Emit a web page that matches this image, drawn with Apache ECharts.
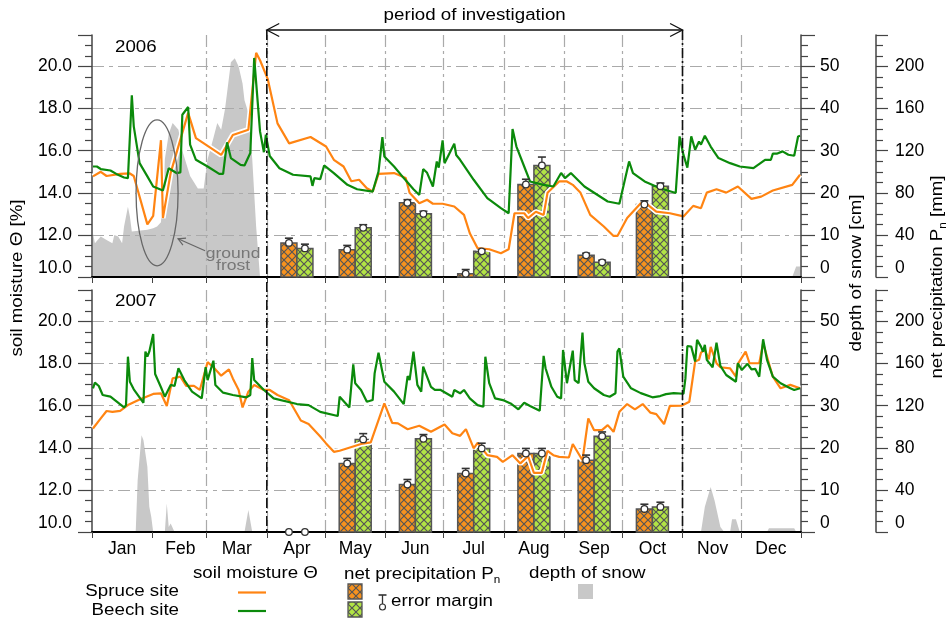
<!DOCTYPE html>
<html>
<head>
<meta charset="utf-8">
<script src="https://cdn.jsdelivr.net/npm/echarts@6/dist/echarts.min.js"></script>
<style>
  html, body { margin: 0; padding: 0; background: #fff; }
  #chart { width: 950px; height: 623px; }
</style>
</head>
<body>
<div id="chart"></div>
<script>
// ---- calendar ----
const months = ['Jan','Feb','Mar','Apr','May','Jun','Jul','Aug','Sep','Oct','Nov','Dec'];
const monthDays = [31,28,31,30,31,30,31,31,30,31,30,31];

// ---- soil moisture Θ [%], [day of year index, value] ----
const spruce2006 = [[0,14.78],[4,15.0],[7,14.8],[14,14.9],[19,14.92],[21,14.8],[28,12.5],[31,12.9],[35,16.5],[36,12.8],[40,14.95],[49,17.8],[53,16.6],[66,15.8],[72,16.75],[80,17.0],[84,20.65],[86,20.3],[90,19.4],[95,17.3],[101,16.35],[112,16.65],[120,16.2],[124,15.57],[129,15.25],[133,14.55],[137,14.62],[141,14.22],[144,14.06],[147,14.9],[155,14.94],[161,14.7],[163,14.0],[168,13.5],[172,13.67],[175,13.48],[180,13.48],[186,13.35],[191,12.95],[194,12.08],[198,11.37],[204,11.32],[210,11.13],[214,11.32],[217,13.03],[222,13.03],[224,12.8],[228,13.1],[232,12.95],[234,14.0],[240,14.54],[244,14.54],[247,14.38],[251,14.0],[256,12.95],[263,12.4],[268,11.95],[270,11.95],[275,12.8],[282,13.5],[285,13.48],[290,13.11],[297,13.03],[304,12.88],[309,13.38],[313,13.27],[316,14.01],[321,14.17],[326,14.01],[332,14.3],[339,13.71],[344,13.82],[350,14.11],[360,14.38],[364,14.86]];
const beech2006 = [[0,15.25],[2,15.25],[4,15.13],[9,15.06],[12,14.9],[16,14.73],[18,14.7],[20,18.63],[21,17.16],[24,15.41],[28,14.78],[31,14.3],[36,14.11],[39,15.17],[43,14.94],[45,14.97],[46,17.71],[47,17.75],[49,18.08],[50,16.29],[53,15.57],[59,15.25],[65,14.9],[67,14.9],[69,16.4],[71,15.65],[76,15.33],[78,15.3],[81,15.89],[82,15.97],[83,20.41],[86,16.92],[88,15.93],[89,16.76],[91,15.75],[96,15.17],[103,14.86],[112,14.78],[113,14.33],[114,14.7],[117,14.65],[119,15.3],[124,14.94],[131,14.38],[136,14.17],[144,14.06],[147,15.01],[149,16.65],[150,15.73],[155,15.25],[160,14.7],[165,14.17],[168,13.9],[170,15.13],[172,14.95],[175,14.3],[177,15.49],[178,15.2],[180,16.49],[181,15.41],[186,16.33],[187,15.8],[189,15.57],[196,14.62],[203,13.75],[210,13.27],[214,13.03],[216,17.03],[218,16.2],[222,15.25],[225,14.54],[232,14.38],[237,14.3],[241,14.94],[243,14.7],[246,14.94],[253,14.3],[265,13.59],[271,13.48],[276,15.49],[278,14.94],[284,14.54],[292,14.22],[300,13.99],[302,16.68],[304,15.8],[306,15.2],[308,16.68],[310,16.05],[312,16.44],[313,16.29],[315,16.71],[318,16.2],[322,15.65],[328,15.41],[333,15.25],[340,15.17],[346,15.57],[349,15.57],[350,15.86],[352,15.86],[355,15.97],[358,15.81],[361,15.76],[363,16.68],[364,16.71]];
const spruce2007 = [[0,14.92],[4,15.4],[7,15.75],[10,15.71],[14,15.76],[18,16.03],[24,16.3],[31,16.56],[35,16.59],[38,15.99],[41,17.3],[45,17.38],[48,16.94],[52,16.94],[55,16.75],[59,18.07],[62,17.83],[66,17.43],[70,17.73],[72,17.3],[75,16.75],[77,15.92],[80,16.67],[83,16.99],[88,16.75],[91,16.75],[95,16.51],[101,16.26],[107,15.3],[111,15.13],[117,14.54],[120,14.21],[124,13.81],[127,13.86],[138,14.18],[143,14.26],[150,16.11],[154,15.19],[157,15.16],[162,14.88],[168,15.05],[174,14.76],[181,15.11],[185,14.69],[189,14.57],[192,14.89],[196,13.97],[198,14.24],[203,13.65],[208,13.57],[211,13.33],[216,13.65],[220,13.26],[224,13.6],[227,12.81],[231,12.81],[234,13.86],[237,13.65],[240,13.57],[245,13.54],[247,14.18],[252,13.41],[255,15.4],[258,14.84],[262,14.84],[265,15.08],[268,14.76],[271,15.71],[275,16.08],[279,15.83],[283,16.08],[287,15.67],[290,15.6],[294,15.13],[297,15.99],[303,16.0],[307,16.19],[310,18.1],[312,18.18],[313,18.52],[315,18.65],[317,18.2],[318,18.8],[321,18.02],[323,17.83],[328,17.78],[331,17.38],[332,17.99],[336,18.57],[338,18.02],[343,18.02],[345,18.97],[350,17.38],[354,16.83],[359,16.99],[364,16.83]];
const beech2007 = [[0,16.83],[1,17.1],[3,16.94],[5,16.51],[9,16.43],[16,15.92],[17,16.03],[18,18.33],[19,17.14],[21,16.78],[26,16.14],[27,18.57],[28,18.33],[29,18.57],[31,19.41],[32,17.51],[35,16.88],[37,16.43],[40,16.99],[42,16.94],[44,17.78],[47,17.22],[51,16.67],[56,16.35],[58,17.83],[59,17.22],[62,18.14],[63,16.99],[67,16.62],[72,16.51],[79,16.4],[81,16.51],[82,18.26],[83,17.22],[88,16.75],[93,16.35],[105,16.08],[111,16.03],[117,15.71],[126,15.51],[127,16.43],[132,15.92],[134,17.97],[135,17.07],[138,16.75],[141,16.19],[144,16.27],[145,17.54],[147,18.52],[150,17.14],[155,16.67],[160,16.08],[162,17.41],[163,17.22],[165,18.57],[167,16.99],[169,16.67],[170,17.86],[174,16.9],[176,16.75],[179,16.75],[185,16.43],[186,16.75],[189,16.59],[191,16.75],[194,16.35],[198,16.03],[201,15.95],[202,18.33],[204,17.07],[207,16.35],[211,16.27],[215,16.11],[219,15.83],[222,16.14],[225,15.99],[230,15.76],[232,18.37],[233,17.78],[236,16.9],[239,16.43],[241,16.35],[242,18.65],[244,17.07],[247,18.62],[248,17.22],[250,17.07],[252,19.48],[253,18.02],[255,17.14],[258,16.83],[263,16.51],[266,16.43],[269,16.59],[270,18.57],[271,18.73],[273,17.38],[277,16.83],[282,16.6],[288,16.4],[292,16.46],[295,16.55],[299,16.6],[304,16.57],[305,17.3],[306,18.84],[308,18.81],[310,18.1],[311,19.13],[313,18.81],[314,18.57],[315,18.89],[316,18.18],[319,17.83],[321,19.0],[323,17.89],[326,17.46],[331,17.14],[332,18.02],[334,17.7],[337,17.99],[339,17.73],[341,17.75],[343,17.38],[345,19.16],[347,18.18],[350,17.38],[354,17.07],[359,16.83],[361,16.75],[364,16.83]];

// ---- depth of snow [cm], [day of year index, value] ----
const snow2006 = [[0,10.4],[1,8],[4,9.6],[7,8.8],[10,8],[11,10],[13,9.6],[15,8],[16,12],[18,16.7],[19,14.4],[20,10.8],[28,11.2],[31,11.6],[33,12],[35,13],[37,28],[39,34],[41,36.6],[44,35],[46,30],[50,24],[54,21],[57,21],[59,28],[62,33],[64,36.6],[66,35],[68,40],[71,51],[73,52],[75,50],[77,46],[78,42],[80,39],[82,28],[84,12],[86,0],[360,0],[362,2.5],[364,2.5]];
const snow2007 = [[0,0],[22,0],[23,12.3],[25,23],[26,21.8],[28,15.5],[29,6],[30,3.6],[31,0],[37,0],[38,6.8],[39,1.2],[40,2],[42,0],[78,0],[80,5.2],[81,5.2],[82,0],[313,0],[315,6],[318,10.7],[320,7.5],[323,1.2],[325,0],[328,0],[329,3],[331,3],[333,0],[347,0],[348,0.9],[361,0.9],[362,0]];

// ---- net precipitation Pn [mm] per month with error margin ----
const barMonths = ['Apr','May','Jun','Jul','Aug','Sep','Oct'];
const precipSpruce2006 = [32.4, 26, 70.5, 3.1, 87.9, 20.6, 68.9];
const precipBeech2006  = [27.2, 46.7, 60, 24.4, 106, 13.9, 86.3];
const errSpruce2006    = [4.5, 4, 3, 4, 5, 2, 3.5];
const errBeech2006     = [4, 3, 2.5, 1.5, 8, 2, 3];
const precipSpruce2007 = [0, 65.1, 45.1, 55.6, 74.6, 68.3, 21.9];
const precipBeech2007  = [0, 88, 88.6, 79.4, 74.6, 91.1, 23.8];
const errSpruce2007    = [0, 4.8, 4.8, 4.8, 4.8, 4.8, 4.5];
const errBeech2007     = [0, 5.5, 4, 5, 4.8, 4, 4.5];

// ---- styling ----
const FONT = "'Liberation Sans', Arial, Helvetica, sans-serif";
const AXIS_FS = 17.5;      // axis tick labels
const TXT_FS = 16;         // free text
const TXT_SX = 1.17;       // horizontal stretch of free text
const C_SPRUCE = '#ff8412';
const C_BEECH = '#0b8a0b';
const C_SPRUCE_BAR = '#f7921e';
const C_BEECH_BAR = '#b2e445';
const C_SNOW = '#c8c8c8';
const C_AXIS = '#444';

// day categories and month helpers
const dayCats = [], monthStart = [], monthMid = [];
let acc = 0;
months.forEach((m, k) => {
  monthStart.push(acc);
  monthMid.push(acc + Math.floor(monthDays[k] / 2));
  for (let d = 1; d <= monthDays[k]; d++) dayCats.push(m + ' ' + d);
  acc += monthDays[k];
});
const startSet = new Set(monthStart);
const midSet = new Set(monthMid);
const midOf = m => monthMid[months.indexOf(m)];

function hatch(fill) {
  const c = document.createElement('canvas');
  c.width = 8; c.height = 8;
  const g = c.getContext('2d');
  g.fillStyle = fill; g.fillRect(0, 0, 8, 8);
  g.strokeStyle = '#555'; g.lineWidth = 1.2;
  g.beginPath();
  g.moveTo(-1, -1); g.lineTo(9, 9);
  g.moveTo(9, -1); g.lineTo(-1, 9);
  g.stroke();
  return { type: 'pattern', image: c, repeat: 'repeat' };
}
const patSpruce = hatch(C_SPRUCE_BAR);
const patBeech = hatch(C_BEECH_BAR);

function makeX(gridIndex, showLabels) {
  return {
    type: 'category', gridIndex, data: dayCats, boundaryGap: true,
    axisLine: { show: true, onZero: false, lineStyle: { color: '#000', width: 2 } },
    axisTick: { show: true, interval: i => startSet.has(i), length: 6, lineStyle: { color: C_AXIS, width: 1 } },
    axisLabel: { show: showLabels, interval: i => midSet.has(i), formatter: v => v.split(' ')[0],
                 color: '#000', fontSize: AXIS_FS, fontFamily: FONT, margin: 8 },
    splitLine: { show: true, interval: i => startSet.has(i) && i > 0, showMinLine: false, showMaxLine: false,
                 lineStyle: { color: '#aaa', width: 1.2, type: [12, 4, 3, 4] } }
  };
}
function makeY(gridIndex, opt) {
  return Object.assign({
    type: 'value', gridIndex,
    axisLine: { show: true, onZero: false, lineStyle: { color: C_AXIS, width: 1.5 } },
    axisTick: { show: true, inside: false, length: 14, lineStyle: { color: C_AXIS, width: 1.2 } },
    minorTick: { show: true, splitNumber: 4, length: 7, lineStyle: { color: C_AXIS, width: 1.2 } },
    axisLabel: { showMinLabel: true, showMaxLabel: false, verticalAlignMinLabel: 'bottom', margin: 19,
                 fontSize: AXIS_FS, color: '#000', fontFamily: FONT },
    splitLine: { show: false }
  }, opt);
}
function moistAxis(g) {
  const a = makeY(g, { position: 'left', min: 10, max: 21.5, interval: 2 });
  a.axisLabel = Object.assign({}, a.axisLabel, { formatter: v => v.toFixed(1), margin: 20 });
  a.splitLine = { show: true, showMinLine: false, showMaxLine: false,
                  lineStyle: { color: '#aaa', width: 1.2, type: [12, 5, 4, 5] } };
  return a;
}
function snowAxis(g) { return makeY(g, { position: 'right', min: 0, max: 57.5, interval: 10 }); }
function precipAxis(g) {
  const a = makeY(g, { position: 'right', offset: 75, min: 0, max: 230, interval: 40 });
  a.axisTick = Object.assign({}, a.axisTick, { length: 12 });
  return a;
}

const toBars = (vals, errs, side) => barMonths.map((m, k) => [midOf(m), vals[k], errs[k], side]);

function barItem(pat) {
  return function (params, api) {
    const i = api.value(0), v = api.value(1), side = api.value(3);
    if (!(v > 0)) return null;
    const top = api.coord([i, v]);
    const base = api.coord([i, 0]);
    const w = 16;
    const x = side < 0 ? top[0] - w : top[0];
    return { type: 'rect', shape: { x: x, y: top[1], width: w, height: base[1] - top[1] },
             style: { fill: pat, stroke: '#555', lineWidth: 1.5 } };
  };
}
function errItem(params, api) {
  const i = api.value(0), v = api.value(1), e = api.value(2), side = api.value(3);
  const p = api.coord([i, v]);
  const q = api.coord([i, v + e]);
  const cx = p[0] + side * 8;
  const children = [];
  if (e > 0) {
    children.push({ type: 'line', shape: { x1: cx, y1: p[1], x2: cx, y2: q[1] }, style: { stroke: '#333', lineWidth: 1.3 } });
    children.push({ type: 'line', shape: { x1: cx - 4, y1: q[1], x2: cx + 4, y2: q[1] }, style: { stroke: '#333', lineWidth: 1.6 } });
  }
  children.push({ type: 'circle', shape: { cx: cx, cy: p[1], r: 3.3 }, style: { fill: '#fff', stroke: '#333', lineWidth: 1.3 } });
  return { type: 'group', children };
}

function panelSeries(g, spruce, beech, snow, pS, pB, eS, eB) {
  const xi = g, ym = g * 3, ys = g * 3 + 1, yp = g * 3 + 2;
  return [
    { type: 'line', name: 'depth of snow', xAxisIndex: xi, yAxisIndex: ys, data: snow, symbol: 'none',
      lineStyle: { width: 0 }, areaStyle: { color: C_SNOW, opacity: 1 }, z: -1, silent: true },
    { type: 'custom', name: 'net precipitation spruce', xAxisIndex: xi, yAxisIndex: yp,
      data: toBars(pS, eS, -1), renderItem: barItem(patSpruce), z: 2, silent: true },
    { type: 'custom', name: 'net precipitation beech', xAxisIndex: xi, yAxisIndex: yp,
      data: toBars(pB, eB, 1), renderItem: barItem(patBeech), z: 2, silent: true },
    { type: 'line', name: 'spruce halo', xAxisIndex: xi, yAxisIndex: ym, data: spruce, symbol: 'none',
      lineStyle: { color: '#fff', width: 5.5 }, z: 3, silent: true },
    { type: 'line', name: 'Spruce site', xAxisIndex: xi, yAxisIndex: ym, data: spruce, symbol: 'none',
      lineStyle: { color: C_SPRUCE, width: 2.2 }, z: 4, silent: true },
    { type: 'line', name: 'Beech site', xAxisIndex: xi, yAxisIndex: ym, data: beech, symbol: 'none',
      lineStyle: { color: C_BEECH, width: 2.2 }, z: 5, silent: true },
    { type: 'custom', name: 'error spruce', xAxisIndex: xi, yAxisIndex: yp,
      data: toBars(pS, eS, -1), renderItem: errItem, z: 6, silent: true },
    { type: 'custom', name: 'error beech', xAxisIndex: xi, yAxisIndex: yp,
      data: toBars(pB, eB, 1), renderItem: errItem, z: 6, silent: true }
  ];
}

const chart = echarts.init(document.getElementById('chart'), null, { renderer: 'canvas' });
chart.setOption({
  animation: false,
  backgroundColor: '#fff',
  textStyle: { fontFamily: FONT },
  grid: [
    { left: 92, top: 35, width: 709, height: 242 },
    { left: 92, top: 290, width: 709, height: 242 }
  ],
  xAxis: [makeX(0, false), makeX(1, true)],
  yAxis: [moistAxis(0), snowAxis(0), precipAxis(0), moistAxis(1), snowAxis(1), precipAxis(1)],
  series: [].concat(
    panelSeries(0, spruce2006, beech2006, snow2006, precipSpruce2006, precipBeech2006, errSpruce2006, errBeech2006),
    panelSeries(1, spruce2007, beech2007, snow2007, precipSpruce2007, precipBeech2007, errSpruce2007, errBeech2007)
  )
});

// ---- annotations ----
const xAt = i => chart.convertToPixel({ xAxisIndex: 0 }, i);
const halfBand = (xAt(1) - xAt(0)) / 2;
const xApr = xAt(monthStart[3]) - halfBand;
const xNov = xAt(monthStart[10]) - halfBand;
const yBottom = chart.convertToPixel({ yAxisIndex: 3 }, 10);
const yArrow = 30;
const frost = chart.convertToPixel({ xAxisIndex: 0, yAxisIndex: 0 }, [33, 14.0]);

// text element, stretched horizontally like the rest of the lettering
function txt(x, y, text, style, rotation) {
  return {
    type: 'text', x, y, silent: true, z: 60, scaleX: TXT_SX, rotation: rotation || 0,
    style: Object.assign({ text, fill: '#000', fontSize: TXT_FS, fontFamily: FONT, align: 'left', verticalAlign: 'middle' }, style || {})
  };
}
const subRich = {
  a: { fontSize: TXT_FS, fill: '#000', lineHeight: 20, fontFamily: FONT },
  b: { fontSize: 10, fill: '#000', lineHeight: 20, verticalAlign: 'bottom', fontFamily: FONT, padding: [8, 0, 0, 0] }
};

function arrowHead(tx, ty, fx, fy, len, spread) {
  const ang = Math.atan2(fy - ty, fx - tx);
  return [[tx + len * Math.cos(ang + spread), ty + len * Math.sin(ang + spread)], [tx, ty],
          [tx + len * Math.cos(ang - spread), ty + len * Math.sin(ang - spread)]];
}

const periodDash = [10, 3, 2, 3];
const frostTip = [frost[0] + 21, frost[1] + 46];
const frostTail = [frost[0] + 48, frost[1] + 58];

const graphics = [
  { type: 'line', silent: true, z: 50, shape: { x1: xApr, y1: yArrow, x2: xApr, y2: yBottom }, style: { stroke: '#111', lineWidth: 1.6, lineDash: periodDash } },
  { type: 'line', silent: true, z: 50, shape: { x1: xNov, y1: yArrow, x2: xNov, y2: yBottom }, style: { stroke: '#111', lineWidth: 1.6, lineDash: periodDash } },
  { type: 'line', silent: true, z: 50, shape: { x1: xApr, y1: yArrow, x2: xNov, y2: yArrow }, style: { stroke: '#111', lineWidth: 1.3 } },
  { type: 'polyline', silent: true, z: 50, shape: { points: arrowHead(xApr, yArrow, xApr + 10, yArrow, 14, 0.48) }, style: { stroke: '#111', lineWidth: 1.3, fill: null } },
  { type: 'polyline', silent: true, z: 50, shape: { points: arrowHead(xNov, yArrow, xNov - 10, yArrow, 14, 0.48) }, style: { stroke: '#111', lineWidth: 1.3, fill: null } },
  txt((xApr + xNov) / 2, 16, 'period of investigation', { align: 'center' }),
  txt(115, 48, '2006'),
  txt(115, 302, '2007'),
  // ground frost marker
  { type: 'ellipse', silent: true, z: 50, shape: { cx: frost[0], cy: frost[1], rx: 21, ry: 73 }, style: { fill: null, stroke: '#666', lineWidth: 1.3 } },
  { type: 'line', silent: true, z: 50, shape: { x1: frostTail[0], y1: frostTail[1], x2: frostTip[0], y2: frostTip[1] }, style: { stroke: '#666', lineWidth: 1.2 } },
  { type: 'polyline', silent: true, z: 50, shape: { points: arrowHead(frostTip[0], frostTip[1], frostTail[0], frostTail[1], 8, 0.5) }, style: { stroke: '#666', lineWidth: 1.2, fill: null } },
  txt(frost[0] + 76, frost[1] + 61, 'ground', { align: 'center', fill: '#777', fontSize: 15 }),
  txt(frost[0] + 76, frost[1] + 73, 'frost', { align: 'center', fill: '#777', fontSize: 15 }),
  // axis titles
  txt(18, 278, 'soil moisture Θ [%]', { align: 'center' }, Math.PI / 2),
  txt(857, 273, 'depth of snow [cm]', { align: 'center' }, Math.PI / 2),
  txt(938, 277, '{a|net precipitation P}{b|n}{a| [mm]}', { align: 'center', rich: subRich }, Math.PI / 2),
  // legend
  txt(193, 574, 'soil moisture Θ'),
  txt(344, 575, '{a|net precipitation P}{b|n}', { rich: subRich }),
  txt(529, 574, 'depth of snow'),
  txt(179, 592, 'Spruce site', { align: 'right' }),
  txt(179, 611, 'Beech site', { align: 'right' }),
  { type: 'line', silent: true, shape: { x1: 238, y1: 592.5, x2: 266, y2: 592.5 }, style: { stroke: C_SPRUCE, lineWidth: 2.2 } },
  { type: 'line', silent: true, shape: { x1: 238, y1: 611, x2: 266, y2: 611 }, style: { stroke: C_BEECH, lineWidth: 2.2 } },
  { type: 'rect', silent: true, shape: { x: 348, y: 584, width: 14, height: 15 }, style: { fill: patSpruce, stroke: '#555', lineWidth: 1.3 } },
  { type: 'rect', silent: true, shape: { x: 348, y: 602, width: 14, height: 15 }, style: { fill: patBeech, stroke: '#555', lineWidth: 1.3 } },
  { type: 'line', silent: true, shape: { x1: 382.5, y1: 595, x2: 382.5, y2: 606 }, style: { stroke: '#333', lineWidth: 1.3 } },
  { type: 'line', silent: true, shape: { x1: 378.5, y1: 595, x2: 386.5, y2: 595 }, style: { stroke: '#333', lineWidth: 1.6 } },
  { type: 'circle', silent: true, shape: { cx: 382.5, cy: 607, r: 3 }, style: { fill: '#fff', stroke: '#333', lineWidth: 1.2 } },
  txt(391, 602, 'error margin'),
  { type: 'rect', silent: true, shape: { x: 578, y: 584, width: 15, height: 15 }, style: { fill: C_SNOW } }
];
chart.setOption({ graphic: graphics });
</script>
</body>
</html>
